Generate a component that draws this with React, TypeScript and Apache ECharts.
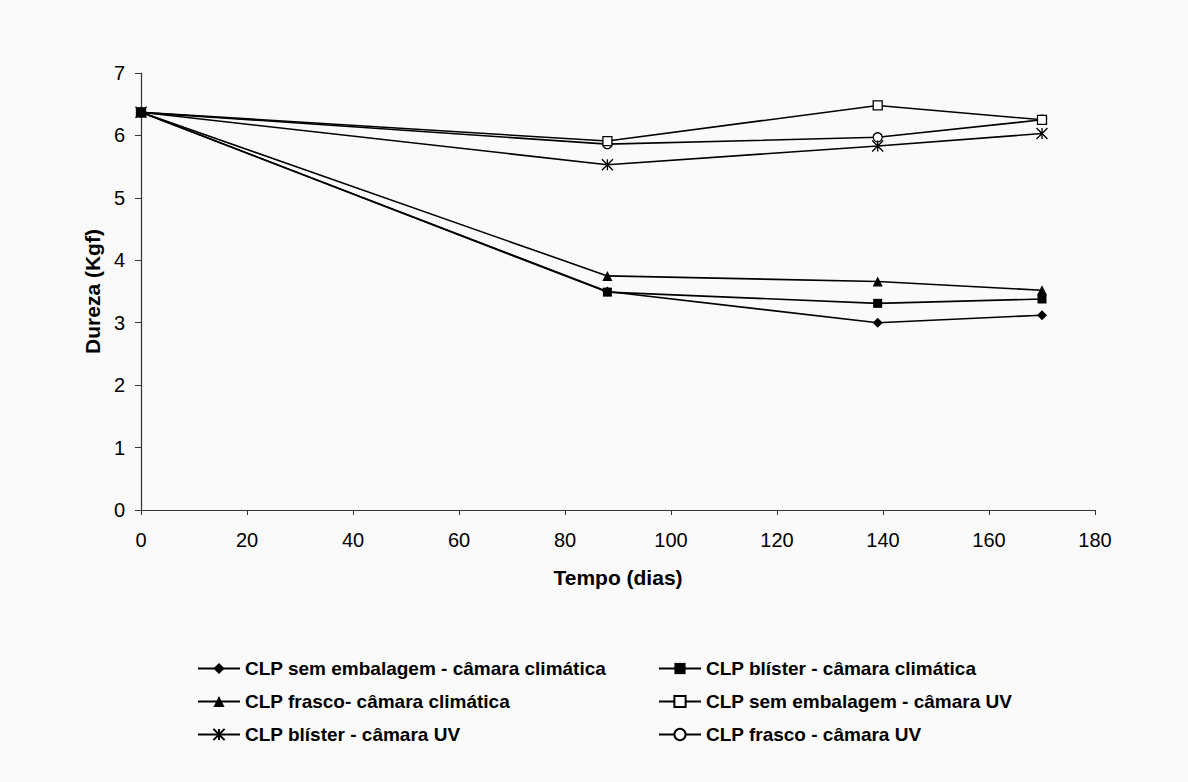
import React, { useEffect, useRef } from "react";
import * as echarts from "echarts";

const days = [0, 88, 139, 170];
const seriesNames = [
  "CLP sem embalagem - câmara climática",
  "CLP blíster - câmara climática",
  "CLP frasco- câmara climática",
  "CLP sem embalagem - câmara UV",
  "CLP blíster - câmara UV",
  "CLP frasco - câmara UV",
];
const semEmbClim = [6.37, 3.5, 3.0, 3.12];
const blisterClim = [6.37, 3.49, 3.31, 3.38];
const frascoClim = [6.37, 3.75, 3.66, 3.52];
const semEmbUV = [6.37, 5.91, 6.48, 6.25];
const blisterUV = [6.37, 5.53, 5.83, 6.03];
const frascoUV = [6.37, 5.86, 5.97, 6.25];
const allValues = [semEmbClim, blisterClim, frascoClim, semEmbUV, blisterUV, frascoUV];

const STAR = "path://M0 0L10 10M10 0L0 10M5 0L5 10";
const symbols = ["diamond", "rect", "triangle", "rect", STAR, "circle"];
const filled = [true, true, true, false, false, false];
const sizes = [10, 9, 10, 9, 11, 9];

const FONT = "'Liberation Sans', Arial, sans-serif";

export default function App() {
  const ref = useRef<HTMLDivElement>(null);
  useEffect(() => {
    const chart = echarts.init(ref.current!, null, { renderer: "svg" });
    const series = allValues.map((vals, i) => ({
      name: seriesNames[i],
      type: "line",
      data: days.map((d, j) => [d, vals[j]]),
      symbol: symbols[i],
      symbolSize: sizes[i],
      showAllSymbol: true,
      lineStyle: { color: "#000", width: 1.6 },
      itemStyle: {
        color: filled[i] ? "#000" : "#fff",
        borderColor: "#000",
        borderWidth: filled[i] ? 0 : 1.3,
        opacity: 1,
      },
      emphasis: { disabled: true },
      z: 10 - i,
    }));
    const legendBase = {
      orient: "vertical",
      itemWidth: 42,
      itemHeight: 14,
      itemGap: 14,
      textStyle: { fontFamily: FONT, fontSize: 19, fontWeight: "bold", color: "#000" },
      selectedMode: false,
    };
    chart.setOption({
      animation: false,
      backgroundColor: "#fafafa",
      textStyle: { fontFamily: FONT },
      grid: { left: 141, right: 93, top: 73, bottom: 272 },
      legend: [
        { ...legendBase, left: 192, top: 654, data: [seriesNames[0], seriesNames[2], seriesNames[4]] },
        { ...legendBase, left: 653, top: 654, data: [seriesNames[1], seriesNames[3], seriesNames[5]] },
      ],
      xAxis: {
        type: "value",
        min: 0,
        max: 180,
        interval: 20,
        name: "Tempo (dias)",
        nameLocation: "middle",
        nameGap: 57,
        nameTextStyle: { fontFamily: FONT, fontSize: 21, fontWeight: "bold", color: "#000" },
        axisLine: { show: true, lineStyle: { color: "#333", width: 1.2 } },
        axisTick: { show: true, inside: false, length: 5, lineStyle: { color: "#333" } },
        axisLabel: { fontFamily: FONT, fontSize: 20, color: "#000", margin: 20 },
        splitLine: { show: false },
      },
      yAxis: {
        type: "value",
        min: 0,
        max: 7,
        interval: 1,
        name: "Dureza (Kgf)",
        nameLocation: "middle",
        nameGap: 38,
        nameRotate: 90,
        nameTextStyle: { fontFamily: FONT, fontSize: 21, fontWeight: "bold", color: "#000" },
        axisLine: { show: true, lineStyle: { color: "#333", width: 1.2 } },
        axisTick: { show: true, inside: false, length: 6, lineStyle: { color: "#333" } },
        axisLabel: { fontFamily: FONT, fontSize: 20, color: "#000", margin: 16 },
        splitLine: { show: false },
      },
      series,
    });
    return () => chart.dispose();
  }, []);
  return (
    <div
      ref={ref}
      style={{ position: "fixed", left: 0, top: 0, width: 1188, height: 782, background: "#fafafa" }}
    />
  );
}
